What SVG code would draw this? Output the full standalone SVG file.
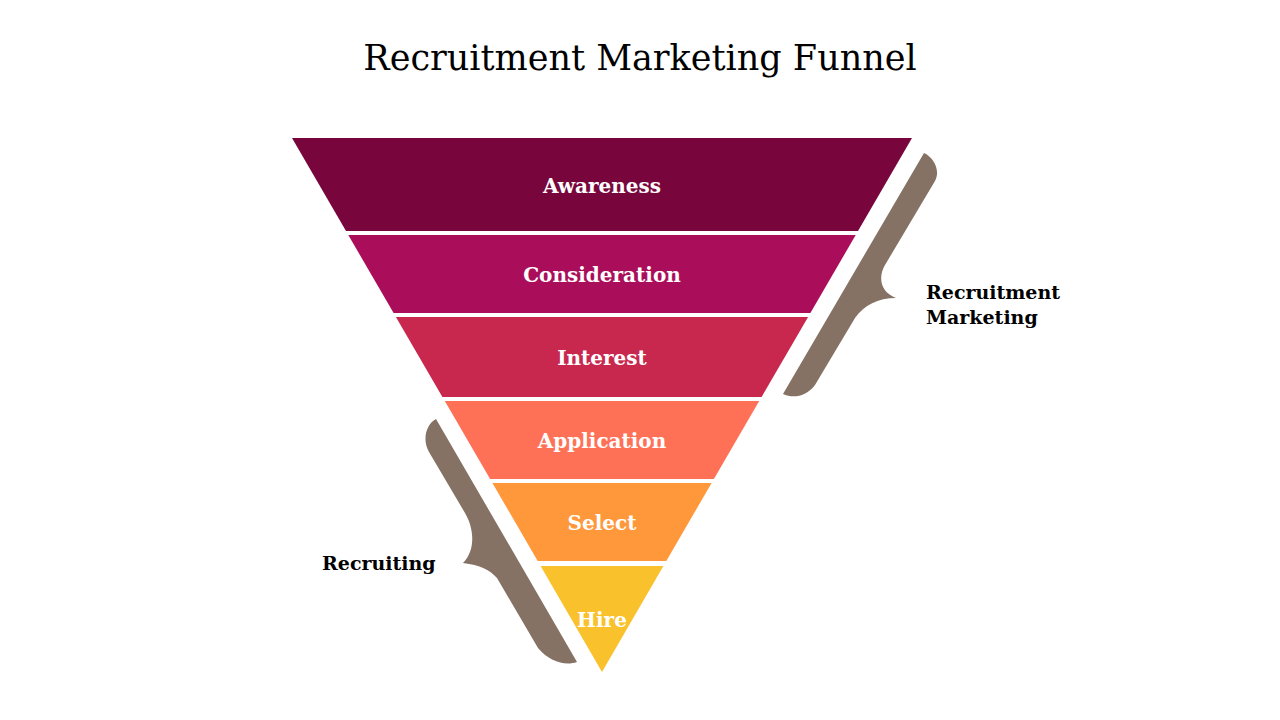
<svg xmlns="http://www.w3.org/2000/svg" width="1280" height="720" viewBox="0 0 1280 720">
<style>
.title{font-family:"DejaVu Serif","Liberation Serif",serif;font-size:35px;fill:#000;text-anchor:middle}
.lbl{font-family:"DejaVu Serif","Liberation Serif",serif;font-size:20px;font-weight:bold;fill:#fff;text-anchor:middle}
.side{font-family:"DejaVu Serif","Liberation Serif",serif;font-size:19px;font-weight:bold;fill:#000}
.brace{fill:#857264}
</style>
<rect width="1280" height="720" fill="#fff"/>
<text class="title" x="640" y="70">Recruitment Marketing Funnel</text>
<g id="awareness"><polygon points="292,138 912,138 858,231 346,231" fill="#78063C"/><text class="lbl" x="602" y="193">Awareness</text></g>
<g id="consideration"><polygon points="348.3,235 855.7,235 810.4,313 393.6,313" fill="#AA0E5A"/><text class="lbl" x="602" y="282">Consideration</text></g>
<g id="interest"><polygon points="395.9,317 808.1,317 761.6,397 442.4,397" fill="#C8284E"/><text class="lbl" x="602" y="365">Interest</text></g>
<g id="application"><polygon points="444.8,401 759.2,401 713.9,479 490.1,479" fill="#FF7157"/><text class="lbl" x="602" y="448">Application</text></g>
<g id="select"><polygon points="492.4,483 711.6,483 666.3,561 537.7,561" fill="#FF983A"/><text class="lbl" x="602" y="530">Select</text></g>
<g id="hire"><polygon points="540.6,566 663.4,566 602,672" fill="#F9C12B"/><text class="lbl" x="602" y="627">Hire</text></g>
<g id="recruitment-marketing">
<path class="brace" d="M924,153 C933,157 941,170 935,181 L885,265 C878,277 880,292 896,298 C878,298 864,305 855,318 L815,385 C805,398 792,398 783,394 Z"/>
<text class="side" x="926" y="299">Recruitment</text>
<text class="side" x="926" y="324">Marketing</text>
</g>
<g id="recruiting">
<path class="brace" d="M436,419 C426,424 422,440 429,452 L465,513 C474,528 476,550 463,563 C480,565 490,570 497,578 L538,648 C550,662 565,666 577,662 Z"/>
<text class="side" x="322" y="570">Recruiting</text>
</g>
<g id="connectors"/>
</svg>
